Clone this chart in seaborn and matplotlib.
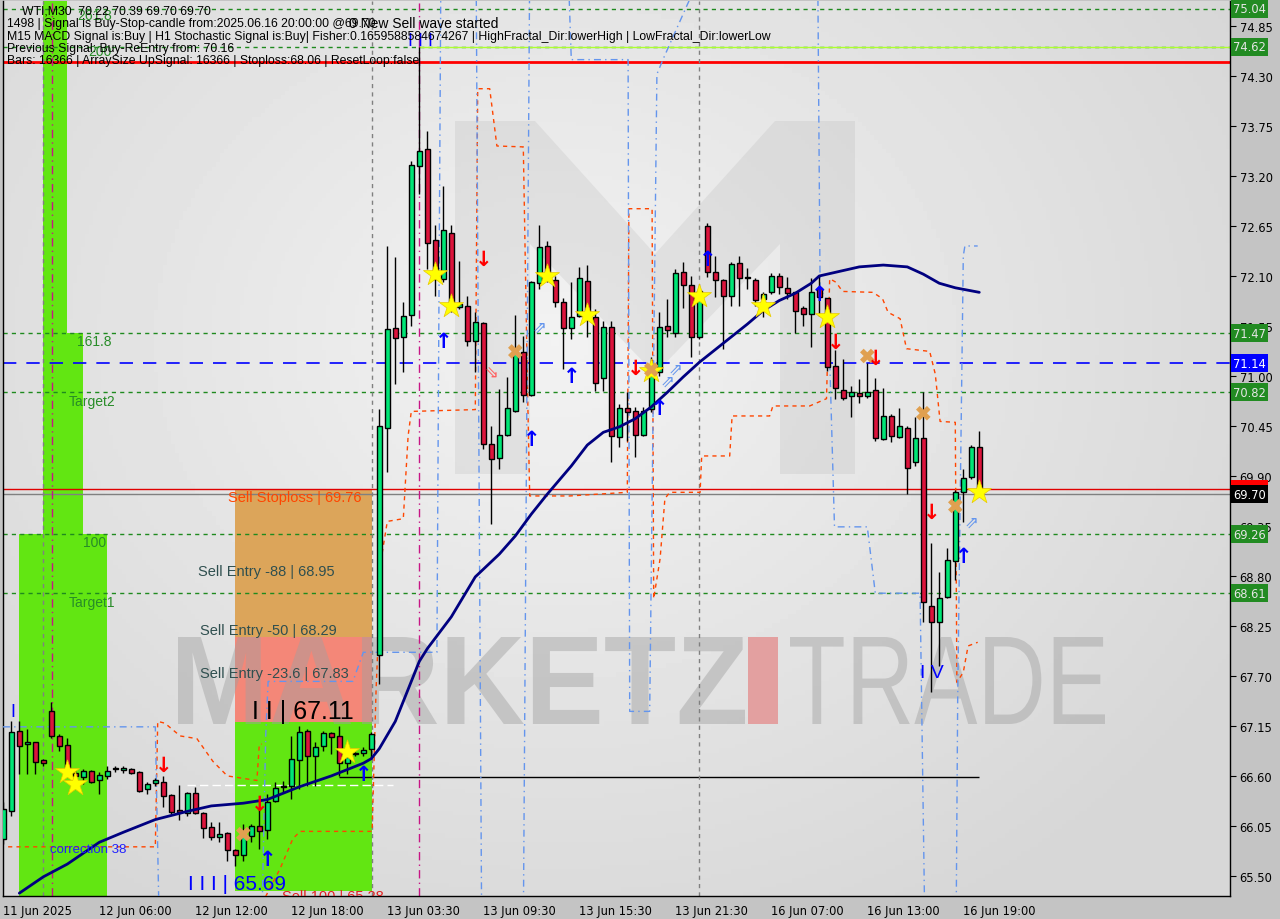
import numpy as np
import seaborn as sns
import matplotlib.pyplot as plt
from matplotlib.patches import Rectangle, Polygon, PathPatch
from matplotlib.textpath import TextPath
from matplotlib.font_manager import FontProperties
from matplotlib.transforms import Affine2D, blended_transform_factory

# ---- candles (M30 bars, index 0..122) ----
OPEN = [65.91, 66.21, 67.09, 66.95, 66.97, 66.77, 67.31, 67.04, 66.94, 66.63,
        66.59, 66.65, 66.56, 66.60, 66.68, 66.67, 66.68, 66.64, 66.46, 66.52,
        66.53, 66.39, 66.23, 66.19, 66.41, 66.19, 66.04, 65.93, 65.97, 65.79,
        65.73, 65.94, 66.05, 66.00, 66.32, 66.48, 66.49, 66.77, 67.09, 66.82,
        66.93, 67.07, 67.04, 66.74, 66.84, 66.85, 66.90, 67.93, 70.43, 71.53,
        71.43, 71.67, 73.31, 73.50, 72.50, 72.07, 72.57, 71.76, 71.77, 71.39,
        71.58, 70.25, 70.10, 70.35, 70.61, 71.26, 70.79, 72.02, 72.43, 72.06,
        71.81, 71.53, 71.66, 72.04, 71.65, 70.98, 71.54, 70.33, 70.65, 70.61,
        70.35, 70.64, 71.04, 71.55, 71.47, 72.14, 72.00, 71.43, 72.65, 72.14,
        72.06, 71.88, 72.24, 72.08, 72.06, 71.85, 71.92, 72.10, 71.97, 71.92,
        71.75, 71.68, 71.97, 71.86, 71.11, 70.85, 70.78, 70.81, 70.78, 70.85,
        70.31, 70.56, 70.33, 70.43, 70.05, 70.32, 68.47, 68.29, 68.57, 68.96,
        69.72, 69.89, 70.22]
HIGH = [66.31, 67.20, 67.20, 67.12, 66.97, 66.79, 67.41, 67.06, 67.02, 66.68,
        66.68, 66.67, 66.64, 66.71, 66.71, 66.71, 66.69, 66.65, 66.53, 66.58,
        66.60, 66.40, 66.50, 66.42, 66.48, 66.20, 66.09, 66.09, 65.98, 65.80,
        66.07, 66.07, 66.24, 66.40, 66.53, 66.54, 67.04, 67.15, 67.12, 66.97,
        67.09, 67.08, 67.15, 66.86, 66.86, 66.92, 67.08, 70.64, 72.43, 72.31,
        71.81, 73.37, 74.62, 73.70, 72.66, 73.09, 72.66, 72.27, 71.88, 71.70,
        71.59, 70.45, 70.86, 70.99, 71.67, 71.44, 72.04, 72.66, 72.48, 72.10,
        71.86, 72.03, 72.20, 72.22, 71.74, 71.61, 71.61, 70.69, 70.82, 70.66,
        70.66, 71.21, 71.70, 71.85, 72.18, 72.25, 72.10, 71.96, 72.68, 72.32,
        72.07, 72.25, 72.32, 72.19, 72.08, 71.92, 72.13, 72.13, 72.09, 71.92,
        71.77, 72.08, 72.10, 71.86, 71.29, 71.19, 70.89, 70.97, 71.14, 70.98,
        70.87, 70.58, 70.65, 70.45, 70.55, 70.82, 69.16, 68.84, 69.11, 69.75,
        69.98, 70.24, 70.39]
LOW = [65.85, 66.16, 66.62, 66.62, 66.62, 66.71, 67.02, 66.87, 66.60, 66.57,
       66.51, 66.52, 66.40, 66.57, 66.64, 66.63, 66.62, 66.42, 66.40, 66.49,
       66.26, 66.18, 66.11, 66.16, 66.18, 65.92, 65.89, 65.87, 65.66, 65.61,
       65.66, 65.87, 65.80, 65.91, 66.31, 66.42, 66.35, 66.46, 66.49, 66.49,
       66.87, 66.84, 66.60, 66.62, 66.82, 66.82, 66.79, 67.61, 69.94, 70.91,
       71.04, 71.55, 73.00, 72.18, 71.88, 72.03, 71.70, 71.74, 71.33, 71.04,
       70.20, 69.37, 69.98, 70.34, 70.60, 70.71, 70.78, 71.96, 72.03, 71.76,
       71.08, 71.41, 71.65, 71.43, 70.84, 70.84, 70.05, 70.22, 70.29, 70.11,
       70.34, 70.60, 71.00, 71.43, 71.43, 71.75, 71.21, 71.41, 72.09, 71.87,
       71.30, 71.77, 71.77, 71.96, 71.77, 71.65, 71.90, 71.90, 71.85, 71.47,
       71.55, 71.32, 71.66, 71.05, 70.75, 70.74, 70.55, 70.70, 70.76, 70.28,
       70.30, 70.27, 70.32, 69.70, 70.01, 68.29, 67.52, 67.81, 68.56, 68.75,
       69.39, 69.87, 69.70]
CLOSE = [66.24, 67.08, 66.93, 66.97, 66.75, 66.74, 67.04, 66.93, 66.65, 66.60,
         66.65, 66.53, 66.61, 66.65, 66.68, 66.69, 66.63, 66.43, 66.51, 66.56,
         66.38, 66.20, 66.20, 66.41, 66.19, 66.03, 65.93, 65.96, 65.79, 65.73,
         65.94, 66.05, 65.99, 66.31, 66.47, 66.48, 66.79, 67.08, 66.82, 66.92,
         67.07, 67.03, 66.74, 66.81, 66.84, 66.89, 67.06, 70.45, 71.52, 71.42,
         71.66, 73.32, 73.48, 72.46, 72.07, 72.61, 71.77, 71.79, 71.39, 71.59,
         70.25, 70.09, 70.35, 70.65, 71.25, 70.79, 72.03, 72.42, 72.07, 71.81,
         71.53, 71.65, 72.08, 71.66, 70.92, 71.54, 70.34, 70.65, 70.60, 70.35,
         70.61, 71.04, 71.54, 71.51, 72.13, 72.00, 71.43, 71.94, 72.14, 72.06,
         71.88, 72.23, 72.08, 72.08, 71.84, 71.90, 72.10, 71.98, 71.91, 71.72,
         71.68, 71.92, 71.87, 71.10, 70.87, 70.76, 70.82, 70.78, 70.82, 70.32,
         70.56, 70.34, 70.45, 69.99, 70.32, 68.51, 68.29, 68.56, 68.97, 69.72,
         69.88, 70.22, 69.70]

# ---- moving average ----
MA_BARS = [2, 5, 8, 12, 15, 19, 23, 26, 30, 33, 37, 41, 45, 46, 47, 49, 50, 52,
           53, 56, 59, 62, 64, 66, 68, 71, 73, 75, 77, 79, 81, 83, 85, 87, 89,
           91, 93, 95, 97, 99, 101, 102, 104, 107, 110, 113, 115, 117, 119, 122]
MA_VALUES = [65.31, 65.49, 65.63, 65.87, 65.98, 66.12, 66.21, 66.27, 66.30, 66.34,
             66.48, 66.60, 66.74, 66.79, 66.90, 67.20, 67.42, 67.86, 68.00, 68.35,
             68.79, 69.04, 69.24, 69.48, 69.70, 70.01, 70.24, 70.38, 70.44, 70.53,
             70.66, 70.82, 70.99, 71.15, 71.29, 71.43, 71.57, 71.72, 71.83, 71.91,
             72.02, 72.10, 72.14, 72.20, 72.22, 72.20, 72.12, 72.02, 71.97, 71.92]

# ---- stepped channel lines ----
ORANGE_A_BARS = [0.6, 19.0, 19.3, 20.2, 22.1, 24.2, 26.2, 28.0, 31.7, 32.0, 32.3]
ORANGE_A_PRICES = [65.82, 65.82, 67.20, 67.18, 67.04, 67.01, 66.76, 66.60, 66.55, 66.95, 66.95]
ORANGE_B_BARS = [32.3, 34.6, 36.2, 37.1, 46.1, 46.6, 47.3, 48.0, 50.0, 50.6, 51.0,
                 59.0, 59.3, 60.8, 61.7, 65.0, 65.5, 65.8, 70.8, 78.0, 78.2, 81.1,
                 81.3, 82.1, 82.7, 83.3, 87.1, 87.3, 90.8, 91.1, 95.8, 96.2, 100.8,
                 102.9, 103.3, 104.1, 104.9, 108.7, 109.9, 110.6, 112.1, 112.9,
                 115.8, 116.5, 117.1, 119.0, 119.2, 120.0, 120.6, 121.8]
ORANGE_B_PRICES = [65.19, 65.58, 65.91, 65.99, 65.99, 67.56, 69.02, 69.40, 69.43,
                   70.34, 70.61, 70.63, 74.16, 74.16, 73.53, 73.52, 70.97, 69.68,
                   69.68, 69.72, 72.84, 72.84, 68.55, 68.99, 69.65, 69.72, 69.72,
                   70.12, 70.12, 70.56, 70.56, 70.67, 70.67, 70.75, 72.07, 72.03,
                   71.93, 71.92, 71.85, 71.70, 71.63, 71.30, 71.27, 71.02, 70.50,
                   70.49, 67.63, 67.74, 68.03, 68.07]
BLUE_BARS = [-0.04, 19.0, 19.5, 32.3, 32.8, 33.1, 43.7, 45.0, 54.2, 54.7, 59.1,
             59.8, 65.0, 65.8, 70.6, 71.0, 78.1, 78.3, 80.8, 81.7, 82.5, 87.6,
             101.8, 102.1, 103.1, 103.9, 108.0, 109.0, 114.6, 115.2, 119.1, 119.3,
             120.0, 120.2, 121.8]
BLUE_PRICES = [67.14, 67.14, 64.90, 64.90, 67.04, 67.64, 67.64, 67.96, 67.96, 75.50,
               75.50, 64.90, 64.90, 75.50, 75.50, 74.48, 74.48, 67.31, 67.31, 74.32,
               74.49, 75.50, 75.50, 71.96, 71.81, 69.34, 69.34, 68.61, 68.61, 64.90,
               64.90, 67.45, 72.32, 72.43, 72.43]

# ---- signal markers ----
STAR_BARS = [8, 9, 43, 54, 56, 68, 73, 81, 87, 95, 103, 122]
STAR_PRICES = [66.64, 66.51, 66.86, 72.12, 71.77, 72.10, 71.67, 71.05, 71.88, 71.77, 71.65, 69.72]
SELL_BARS = [20, 32, 60, 79, 104, 109, 116]
SELL_PRICES = [66.72, 66.29, 72.29, 71.09, 71.37, 71.20, 69.50]
BUY_BARS = [33, 45, 55, 66, 71, 82, 88, 102, 120]
BUY_PRICES = [65.69, 66.62, 71.38, 70.31, 71.00, 70.65, 72.29, 71.90, 69.02]
CROSS_BARS = [30, 64, 81, 108, 115, 119]
CROSS_PRICES = [65.96, 71.27, 71.07, 71.22, 70.59, 69.57]
HOLLOW_UP_BARS = [67, 83, 84, 121]
HOLLOW_UP_PRICES = [71.54, 70.95, 71.08, 69.40]
HOLLOW_DN_BARS = [61]
HOLLOW_DN_PRICES = [71.04]

# ---- levels / zones ----
GREEN_LEVELS = [75.04, 74.62, 71.47, 70.82, 69.26, 68.61]
BLUE_LEVEL = 71.14
RED_LEVEL = 74.45
STOP_LEVEL = 69.76
BID = 69.70
GREEN_ZONES = [(4.96, 7.96, 71.47, 75.30), (4.96, 9.96, 69.26, 71.47),
               (1.96, 12.96, 65.20, 69.26), (28.96, 46.09, 65.33, 67.19)]
SELL_ZONE = (28.96, 46.09, 67.19, 68.13, 69.76)
GRAY_VLINES = [4.96, 46.09, 86.96]
MAGENTA_VLINES = [6.09, 51.96]

Y_TICKS = [65.50, 66.05, 66.60, 67.15, 67.70, 68.25, 68.80, 69.35, 69.90, 70.45,
           71.00, 71.55, 72.10, 72.65, 73.20, 73.75, 74.30, 74.85]
TICK_BARS = [0, 12, 24, 36, 48, 60, 72, 84, 96, 108, 120]
TICK_LABELS = ["11 Jun 2025", "12 Jun 06:00", "12 Jun 12:00", "12 Jun 18:00",
               "13 Jun 03:30", "13 Jun 09:30", "13 Jun 15:30", "13 Jun 21:30",
               "16 Jun 07:00", "16 Jun 13:00", "16 Jun 19:00"]

GREEN = "#00e676"
RED = "#dc143c"
LAWN = "#62e612"

sns.set_style("white")
plt.rcParams['font.family'] = ['DejaVu Sans']

fig = plt.figure(figsize=(12.8, 9.2), dpi=100, facecolor="#c4c4c4")
ax = fig.add_axes([3 / 1280, 23 / 920, 1227 / 1280, 895 / 920])


def px(x, y):
    # pixel position of the screenshot -> axes fraction
    return (x - 3) / 1227, (897 - y) / 895


# background gradient
gy, gx = np.mgrid[0:1:200j, 0:1:300j]
r = np.sqrt(((gx - 0.45) / 0.65) ** 2 + ((gy - 0.62) / 0.75) ** 2)
shade = 0.95 - 0.11 * np.clip(r, 0, 1)
ax.imshow(shade, cmap="gray", vmin=0, vmax=1, extent=[0, 1, 0, 1], origin="lower",
          transform=ax.transAxes, aspect="auto", zorder=0)

# zones
for (x0, x1, lo, hi) in GREEN_ZONES:
    ax.add_patch(Rectangle((x0, lo), x1 - x0, hi - lo, color=LAWN, lw=0, zorder=1))
sx0, sx1, slo, smid, shi = SELL_ZONE
ax.add_patch(Rectangle((sx0, smid), sx1 - sx0, shi - smid, color="#dca55a", lw=0, zorder=1))
ax.add_patch(Rectangle((sx0, slo), sx1 - sx0, smid - slo, color="#f48778", lw=0, zorder=1))

# watermark
m_shape = [(455, 475), (455, 122), (535, 122), (655, 255), (775, 122), (855, 122),
           (855, 475), (780, 475), (780, 245), (655, 375), (530, 245), (530, 475)]
ax.add_patch(Polygon([px(*p) for p in m_shape], closed=True, transform=ax.transAxes,
                     color="#a0a0a0", alpha=0.17, lw=0, zorder=1.5))


def word(s, x0, x1, ybase, ytop, weight, color, alpha):
    tp = TextPath((0, 0), s, size=100, prop=FontProperties(family="Liberation Sans", weight=weight))
    bb = tp.get_extents()
    ax0, ay0 = px(x0, ybase)
    ax1, ay1 = px(x1, ytop)
    tr = Affine2D().translate(-bb.x0, -bb.y0).scale((ax1 - ax0) / bb.width, (ay1 - ay0) / bb.height)
    tr = tr.translate(ax0, ay0) + ax.transAxes
    ax.add_patch(PathPatch(tp, transform=tr, color=color, alpha=alpha, lw=0, zorder=1.6))


word("MARKETZ", 178, 745, 725, 638, "bold", "#a0a0a0", 0.45)
word("TRADE", 790, 1105, 725, 638, "normal", "#a0a0a0", 0.45)
rx0, ry0 = px(748, 725)
rx1, ry1 = px(778, 638)
ax.add_patch(Rectangle((rx0, ry0), rx1 - rx0, ry1 - ry0, transform=ax.transAxes,
                       color="#e3a0a0", lw=0, zorder=1.6))

# horizontal levels
for lv in GREEN_LEVELS:
    ax.axhline(lv, color="#1f8a1f", lw=1, ls=(0, (3, 3)), zorder=2)
ax.axhline(BLUE_LEVEL, color="#0000ff", lw=1.2, ls=(0, (8, 6)), zorder=2)
ax.axhline(RED_LEVEL, color="#ff0000", lw=2, zorder=2)
ax.axhline(STOP_LEVEL, color="#e00000", lw=1, zorder=2)
ax.axhline(BID, color="#808080", lw=1, zorder=2)
ax.hlines(74.62, 52, 153.4, color="#adff2f", lw=1, zorder=2)
ax.hlines(66.59, 41.9, 122, color="black", lw=1, zorder=2)
ax.hlines(66.50, 23, 48.7, color="white", lw=1, ls=(0, (6, 3)), zorder=2)
for v in GRAY_VLINES:
    ax.axvline(v, color="#808080", lw=1, ls=(0, (3, 3)), zorder=2)
for v in MAGENTA_VLINES:
    ax.axvline(v, color="#c71585", lw=1, ls=(0, (6, 3, 1, 3)), zorder=2)

# channel lines
sns.lineplot(x=ORANGE_A_BARS, y=ORANGE_A_PRICES, ax=ax, color="#ff4500", lw=1,
             linestyle=(0, (3, 3)), estimator=None, sort=False, zorder=3)
sns.lineplot(x=ORANGE_B_BARS, y=ORANGE_B_PRICES, ax=ax, color="#ff4500", lw=1,
             linestyle=(0, (3, 3)), estimator=None, sort=False, zorder=3)
sns.lineplot(x=BLUE_BARS, y=BLUE_PRICES, ax=ax, color="#6495ed", lw=1,
             linestyle=(0, (5, 3, 1, 3)), estimator=None, sort=False, zorder=3)

# candles
o = np.array(OPEN)
c = np.array(CLOSE)
bars = np.arange(len(OPEN))
cols = np.where(c > o + 0.004, GREEN, np.where(c < o - 0.004, RED, "black"))
ax.vlines(bars, LOW, HIGH, color="black", lw=1, zorder=5)
ax.bar(bars, np.maximum(np.abs(c - o), 0.012), bottom=np.minimum(o, c), width=0.62,
       color=cols, edgecolor="black", linewidth=1, zorder=5)

# moving average
sns.lineplot(x=MA_BARS, y=MA_VALUES, ax=ax, color="#000080", lw=2, estimator=None,
             sort=False, zorder=6)

# markers
sns.scatterplot(x=STAR_BARS, y=STAR_PRICES, ax=ax, marker="*", s=330, color="#ffff00",
                edgecolor="#e8c800", linewidth=0.5, zorder=8, legend=False)
sns.scatterplot(x=CROSS_BARS, y=CROSS_PRICES, ax=ax, marker="X", s=110, color="#e0a050",
                edgecolor="none", zorder=8, legend=False)
for b, p in zip(SELL_BARS, SELL_PRICES):
    ax.text(b, p, "↓", color="#ff0000", fontsize=15, fontweight="bold", ha="center", va="center", zorder=8)
for b, p in zip(BUY_BARS, BUY_PRICES):
    ax.text(b, p, "↑", color="#0000ff", fontsize=15, fontweight="bold", ha="center", va="center", zorder=8)
for b, p in zip(HOLLOW_UP_BARS, HOLLOW_UP_PRICES):
    ax.text(b, p, "⇗", color="#6495ed", fontsize=12, ha="center", va="center", zorder=8)
for b, p in zip(HOLLOW_DN_BARS, HOLLOW_DN_PRICES):
    ax.text(b, p, "⇘", color="#ff6060", fontsize=12, ha="center", va="center", zorder=8)

# zone / wave labels
lab = dict(family=["Liberation Sans", "DejaVu Sans"], zorder=9, va="center", ha="left")
for t, b, p in [("161.8", 9.2, 71.38), ("Target2", 8.2, 70.72), ("100", 10.0, 69.17),
                ("Target1", 8.2, 68.51), ("261.8", 9.2, 74.97), ("200", 10.6, 74.57)]:
    ax.text(b, p, t, color="#288c28", fontsize=10, **lab)
ax.text(5.8, 65.80, "correction 38", color="#2020ff", fontsize=9.5, **lab)
ax.text(28.1, 69.67, "Sell Stoploss | 69.76", color="#ff4500", fontsize=10.5, **lab)
ax.text(24.3, 68.85, "Sell Entry -88 | 68.95", color="#2f4f4f", fontsize=10.5, **lab)
ax.text(24.6, 68.20, "Sell Entry -50 | 68.29", color="#2f4f4f", fontsize=10.5, **lab)
ax.text(24.6, 67.73, "Sell Entry -23.6 | 67.83", color="#2f4f4f", fontsize=10.5, **lab)
ax.text(31.1, 67.31, "I I | 67.11", color="black", fontsize=18, **lab)
ax.text(23.1, 65.42, "I I I | 65.69", color="#0000ff", fontsize=15, **lab)
ax.text(34.8, 65.36, "Sell 100 | 65.28", color="#e02020", fontsize=10.5,
        family=["Liberation Sans"], zorder=9, va="top", ha="left", clip_on=True)
ax.text(114.6, 67.74, "I V", color="#0000ff", fontsize=14, **lab)
ax.text(0.9, 67.31, "I", color="#0000ff", fontsize=13, **lab)
ax.text(50.6, 74.69, "I I I", color="#0000ff", fontsize=13, **lab)

# header
hdr = dict(transform=ax.transAxes, fontsize=8.8, color="black", va="center", ha="left",
           family=["Liberation Sans", "DejaVu Sans"], zorder=10)
ax.text(*px(22, 12), "WTI,M30  70.22 70.39 69.70 69.70", **hdr)
ax.text(*px(7, 24), "1498 | Signal is Buy-Stop-candle from:2025.06.16 20:00:00 @69.70", **hdr)
ax.text(*px(349, 24), "0 New Sell wave started", **{**hdr, "fontsize": 10})
ax.text(*px(7, 37), "M15 MACD Signal is:Buy | H1 Stochastic Signal is:Buy| Fisher:0.1659588584674267 | "
        "HighFractal_Dir:lowerHigh | LowFractal_Dir:lowerLow", **hdr)
ax.text(*px(7, 49), "Previous Signal: Buy-ReEntry from: 70.16", **hdr)
ax.text(*px(7, 61), "Bars: 16366 | ArraySize UpSignal: 16366 | Stoploss:68.06 | ResetLoop:false", **hdr)

# axes
ax.set_xlim(-0.04, 153.34)
ax.set_ylim(65.279, 75.125)
ax.set_xlabel("")
ax.set_ylabel("")
ax.yaxis.tick_right()
ax.set_yticks(Y_TICKS)
ax.set_yticklabels([f"{v:.2f}" for v in Y_TICKS])
ax.set_xticks(TICK_BARS)
ax.set_xticklabels(TICK_LABELS, ha="left")
ax.tick_params(axis="y", direction="out", length=4, pad=3, labelsize=8.3, colors="black")
ax.tick_params(axis="x", direction="out", length=4, pad=2, labelsize=8.3, colors="black")
for side in ["left", "right", "bottom"]:
    ax.spines[side].set_color("black")
    ax.spines[side].set_linewidth(1)
ax.spines["top"].set_visible(False)

# price badges on the right scale (stop badge sits mostly under the bid badge)
btr = blended_transform_factory(ax.transAxes, ax.transData)
badges = [(STOP_LEVEL, "69.76", "#ff0000", "#ff0000", 19)] + \
         [(lv, f"{lv:.2f}", "#228b22", "#e6e6e6", 20) for lv in GREEN_LEVELS] + \
         [(BLUE_LEVEL, f"{BLUE_LEVEL:.2f}", "#0000ff", "white", 20),
          (BID, f"{BID:.2f}", "black", "white", 21)]
for p, t, fc, tc, z in badges:
    ax.text(1.0025, p, t, transform=btr, fontsize=8.3, color=tc, ha="left", va="center",
            clip_on=False, zorder=z,
            bbox=dict(boxstyle="square,pad=0.22", fc=fc, ec="none"))

fig.savefig("out.png", dpi=100, facecolor=fig.get_facecolor())
